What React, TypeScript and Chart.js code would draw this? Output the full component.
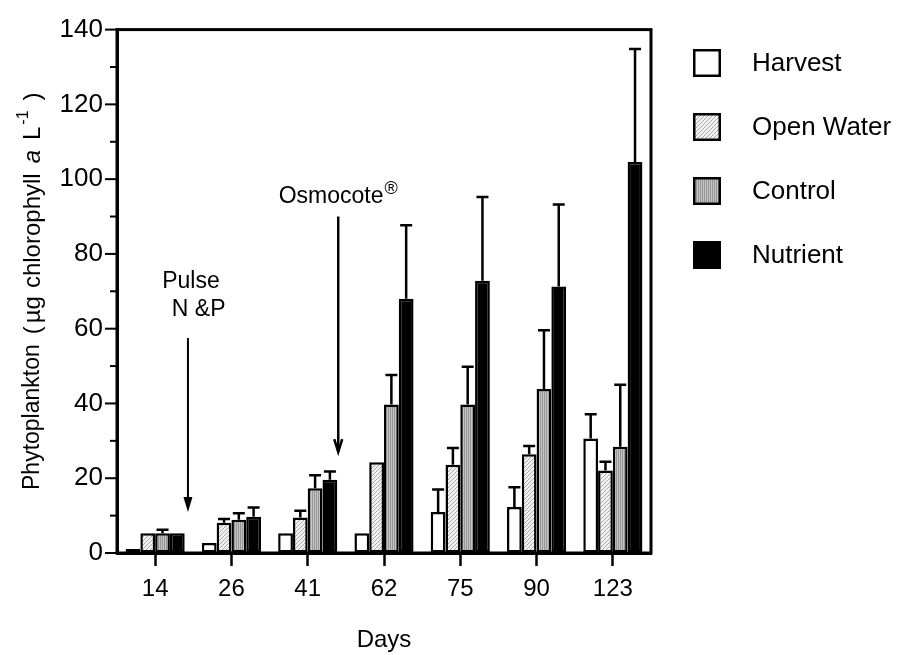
import React, { useEffect, useRef } from 'react';
import { Chart, registerables } from 'chart.js';
Chart.register(...registerables);

const days = ['14', '26', '41', '62', '75', '90', '123'];
const seriesNames = ['Harvest', 'Open Water', 'Control', 'Nutrient'];
const harvest = [1.1, 2.7, 5.3, 5.3, 11.0, 12.3, 30.6];
const harvestErr = [null, null, null, null, 6.0, 5.3, 6.5];
const openWater = [5.3, 8.1, 9.5, 24.3, 23.6, 26.4, 22.1];
const openWaterErr = [null, 1.0, 1.8, null, 4.5, 2.2, 2.3];
const control = [5.3, 8.9, 17.3, 39.7, 39.7, 43.9, 28.4];
const controlErr = [0.9, 1.7, 3.5, 7.9, 10.1, 15.7, 16.6];
const nutrient = [5.3, 9.7, 19.6, 68.0, 72.8, 71.3, 104.6];
const nutrientErr = [null, 2.5, 2.2, 19.7, 22.4, 21.9, 30.2];
const yMajorTicks = [0, 20, 40, 60, 80, 100, 120, 140];

const FONT = "'Liberation Sans', Arial, Helvetica, sans-serif";

function makeDiagPattern(): CanvasPattern | string {
  const c = document.createElement('canvas');
  c.width = 4; c.height = 4;
  const g = c.getContext('2d');
  if (!g) return '#d8d8d8';
  g.fillStyle = '#f2f2f2';
  g.fillRect(0, 0, 4, 4);
  g.fillStyle = '#a8a8a8';
  for (let i = 0; i < 4; i++) g.fillRect(i, 3 - i, 1, 1);
  const p = g.createPattern(c, 'repeat');
  return p || '#d8d8d8';
}

function makeVertPattern(): CanvasPattern | string {
  const c = document.createElement('canvas');
  c.width = 2; c.height = 2;
  const g = c.getContext('2d');
  if (!g) return '#b0b0b0';
  g.fillStyle = '#c4c4c4';
  g.fillRect(0, 0, 2, 2);
  g.fillStyle = '#969696';
  g.fillRect(0, 0, 1, 2);
  const p = g.createPattern(c, 'repeat');
  return p || '#b0b0b0';
}

const errorBarPlugin = {
  id: 'errorBars',
  afterDatasetsDraw(chart: any) {
    const ctx = chart.ctx;
    const yScale = chart.scales.y;
    ctx.save();
    ctx.strokeStyle = '#000';
    ctx.lineWidth = 2.5;
    chart.data.datasets.forEach((ds: any, di: number) => {
      const meta = chart.getDatasetMeta(di);
      meta.data.forEach((bar: any, i: number) => {
        const e = ds.errors[i];
        if (e == null) return;
        const v = ds.data[i];
        const yTop = yScale.getPixelForValue(v + e);
        const x = bar.x;
        ctx.beginPath();
        ctx.moveTo(x, bar.y);
        ctx.lineTo(x, yTop);
        ctx.moveTo(x - 6, yTop);
        ctx.lineTo(x + 6, yTop);
        ctx.stroke();
      });
    });
    ctx.restore();
  },
};

const decorPlugin = {
  id: 'decor',
  afterDraw(chart: any) {
    const ctx = chart.ctx;
    const ca = chart.chartArea;
    const x = chart.scales.x;
    const y = chart.scales.y;
    ctx.save();
    // box
    ctx.strokeStyle = '#000';
    ctx.lineWidth = 3;
    ctx.strokeRect(ca.left, ca.top, ca.right - ca.left, ca.bottom - ca.top);
    // y ticks
    ctx.lineWidth = 2;
    for (let v = 0; v <= 140; v += 10) {
      const py = y.getPixelForValue(v);
      const len = v % 20 === 0 ? 12 : 7;
      ctx.beginPath();
      ctx.moveTo(ca.left - len, py);
      ctx.lineTo(ca.left, py);
      ctx.stroke();
    }
    // legend
    chart.data.datasets.forEach((ds: any, i: number) => {
      const bx = ca.right + 42;
      const by = 49 + i * 64;
      ctx.fillStyle = ds.backgroundColor;
      ctx.fillRect(bx, by, 28, 28);
      ctx.lineWidth = 2.5;
      ctx.strokeStyle = '#000';
      ctx.strokeRect(bx + 1.25, by + 1.25, 25.5, 25.5);
      ctx.fillStyle = '#000';
      ctx.font = `26px ${FONT}`;
      ctx.textAlign = 'left';
      ctx.textBaseline = 'middle';
      ctx.fillText(ds.label, bx + 59, by + 15);
    });
    // annotations
    const catX = (f: number) => {
      const i0 = Math.floor(f);
      const p0 = x.getPixelForValue(i0);
      const p1 = x.getPixelForValue(i0 + 1);
      return p0 + (f - i0) * (p1 - p0);
    };
    ctx.fillStyle = '#000';
    ctx.strokeStyle = '#000';
    ctx.font = `23px ${FONT}`;
    ctx.textAlign = 'center';
    ctx.textBaseline = 'middle';
    ctx.fillText('Pulse', catX(0.47), y.getPixelForValue(72.5));
    ctx.fillText('N &P', catX(0.57), y.getPixelForValue(65.0));
    // pulse arrow
    const ax = catX(0.43);
    const aTop = y.getPixelForValue(57.5);
    const aTip = y.getPixelForValue(11.0);
    ctx.lineWidth = 2;
    ctx.beginPath();
    ctx.moveTo(ax, aTop);
    ctx.lineTo(ax, aTip - 10);
    ctx.stroke();
    ctx.beginPath();
    ctx.moveTo(ax - 4.5, aTip - 15);
    ctx.lineTo(ax + 4.5, aTip - 15);
    ctx.lineTo(ax, aTip);
    ctx.closePath();
    ctx.fill();
    // osmocote
    const ox = catX(2.4);
    const oTop = y.getPixelForValue(90.0);
    const oTip = y.getPixelForValue(27.0);
    ctx.lineWidth = 2.5;
    ctx.beginPath();
    ctx.moveTo(ox, oTop);
    ctx.lineTo(ox, oTip);
    ctx.stroke();
    ctx.beginPath();
    ctx.moveTo(ox - 4, oTip - 13);
    ctx.lineTo(ox, oTip);
    ctx.lineTo(ox + 4, oTip - 13);
    ctx.stroke();
    ctx.font = `23px ${FONT}`;
    ctx.textBaseline = 'alphabetic';
    ctx.textAlign = 'left';
    const main = 'Osmocote';
    const mw = ctx.measureText(main).width;
    ctx.font = `18px ${FONT}`;
    const rw = ctx.measureText('®').width;
    const startX = ox - (mw + rw + 1) / 2;
    const base = y.getPixelForValue(93.5);
    ctx.font = `23px ${FONT}`;
    ctx.fillText(main, startX, base);
    ctx.font = `18px ${FONT}`;
    ctx.fillText('®', startX + mw + 1, base - 9);
    // y title (drawn bottom to top)
    ctx.save();
    ctx.translate(33, ca.bottom - 63);
    ctx.rotate(-Math.PI / 2);
    ctx.textBaseline = 'middle';
    ctx.textAlign = 'left';
    const parts: [string, string, number, number][] = [
      ['Phytoplankton', `23px ${FONT}`, 0, 0],
      ['(', `24px ${FONT}`, 0, 10],
      ['µg', `24px ${FONT}`, 0, 3],
      ['chlorophyll', `24px ${FONT}`, 0, 8],
      ['a', `italic 24px ${FONT}`, 0, 10],
      ['L', `24px ${FONT}`, 0, 10],
      ['-1', `16px ${FONT}`, -9, 2],
      [')', `24px ${FONT}`, 0, 10],
    ];
    let cx = 0;
    parts.forEach(([t, f, dy, gap]) => {
      cx += gap;
      ctx.font = f;
      ctx.fillText(t, cx, dy);
      cx += ctx.measureText(t).width;
    });
    ctx.restore();
    ctx.restore();
  },
};

export default function App() {
  const ref = useRef<HTMLCanvasElement | null>(null);
  useEffect(() => {
    if (!ref.current) return;
    const diag = makeDiagPattern();
    const vert = makeVertPattern();
    const mk = (label: string, data: number[], errors: (number | null)[], bg: any) => ({
      label, data, errors, backgroundColor: bg, borderColor: '#000', borderWidth: 2.5,
      borderSkipped: false, categoryPercentage: 0.775, barPercentage: 1.0,
    });
    const chart = new Chart(ref.current, {
      type: 'bar',
      data: {
        labels: days,
        datasets: [
          mk(seriesNames[0], harvest, harvestErr, '#ffffff'),
          mk(seriesNames[1], openWater, openWaterErr, diag),
          mk(seriesNames[2], control, controlErr, vert),
          mk(seriesNames[3], nutrient, nutrientErr, '#000000'),
        ] as any,
      },
      options: {
        animation: false,
        responsive: false,
        events: [],
        layout: { padding: { left: 0, right: 247, top: 20, bottom: 0 } },
        plugins: { legend: { display: false }, tooltip: { enabled: false }, title: { display: false } },
        scales: {
          x: {
            type: 'category',
            grid: { offset: false, drawOnChartArea: false, drawTicks: true, tickLength: 13, tickWidth: 2.5, tickColor: '#000' },
            border: { display: true, width: 3, color: '#000' },
            ticks: { color: '#000', font: { family: FONT, size: 24 }, padding: 9, autoSkip: false, maxRotation: 0 },
            title: { display: true, text: 'Days', color: '#000', font: { family: FONT, size: 24 }, padding: { top: 0, bottom: 0 } },
            afterFit: (s: any) => { s.height = 102; },
          },
          y: {
            min: 0, max: 140,
            afterBuildTicks: (s: any) => { s.ticks = yMajorTicks.map((v) => ({ value: v })); },
            grid: { drawOnChartArea: false, drawTicks: false },
            border: { display: true, width: 3, color: '#000' },
            ticks: { color: '#000', font: { family: FONT, size: 26 }, padding: 14 },
            afterFit: (s: any) => { s.width = 117; },
          },
        },
      },
      plugins: [errorBarPlugin, decorPlugin],
    });
    return () => chart.destroy();
  }, []);
  return (
    <div style={{ position: 'fixed', left: 0, top: 0, width: 898, height: 655, background: '#fff' }}>
      <canvas ref={ref} width={898} height={655} style={{ width: 898, height: 655, display: 'block' }} />
    </div>
  );
}
